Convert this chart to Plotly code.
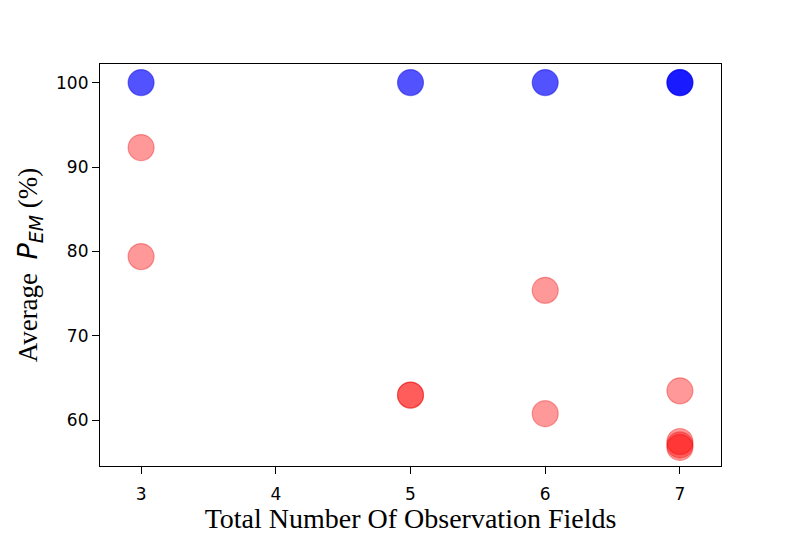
import plotly.graph_objects as go

# data
fields_red = [3, 3, 5, 5, 6, 6, 7, 7, 7, 7]
pem_red = [92.3, 79.4, 63.0, 63.0, 75.4, 60.8, 63.5, 57.5, 57.1, 56.8]

fields_blue = [3, 5, 6, 7, 7]
pem_blue = [100, 100, 100, 100, 100]

x_ticks = [3, 4, 5, 6, 7]
y_ticks = [60, 70, 80, 90, 100]

fig = go.Figure()

fig.add_trace(go.Scatter(
    x=fields_red, y=pem_red,
    mode="markers",
    marker=dict(size=26, color="rgba(255,0,0,0.4)",
                line=dict(width=1.2, color="rgba(230,0,0,0.35)")),
    showlegend=False
))

fig.add_trace(go.Scatter(
    x=fields_blue, y=pem_blue,
    mode="markers",
    marker=dict(size=26, color="rgba(0,0,255,0.68)",
                line=dict(width=1.2, color="rgba(0,0,220,0.45)")),
    showlegend=False
))

axis_common = dict(
    showline=True, linecolor="black", linewidth=1.2, mirror=True,
    showgrid=False, zeroline=False,
    ticks="outside", ticklen=7, tickwidth=1.2, tickcolor="black",
    tickfont=dict(family="DejaVu Sans", size=17, color="black"),
)

# page body has an 8px margin, so margins are shifted to land the axes box right
fig.update_layout(
    width=800, height=533,
    margin=dict(l=92, r=87, t=56, b=75),
    paper_bgcolor="white", plot_bgcolor="white",
    xaxis=dict(
        range=[2.695, 7.305], tickvals=x_ticks,
        ticklabelstandoff=5,
        title=dict(text="Total Number Of Observation Fields",
                   font=dict(family="Liberation Serif", size=28, color="black"),
                   standoff=2),
        **axis_common
    ),
    yaxis=dict(
        range=[54.6, 102.2], tickvals=y_ticks,
        title=dict(
            text="Average  <span style='font-family:DejaVu Sans'><i>P</i><sub><i>EM</i></sub></span> (%)",
            font=dict(family="Liberation Serif", size=27, color="black"),
            standoff=10),
        **axis_common
    ),
)

fig.write_html("out.html")
